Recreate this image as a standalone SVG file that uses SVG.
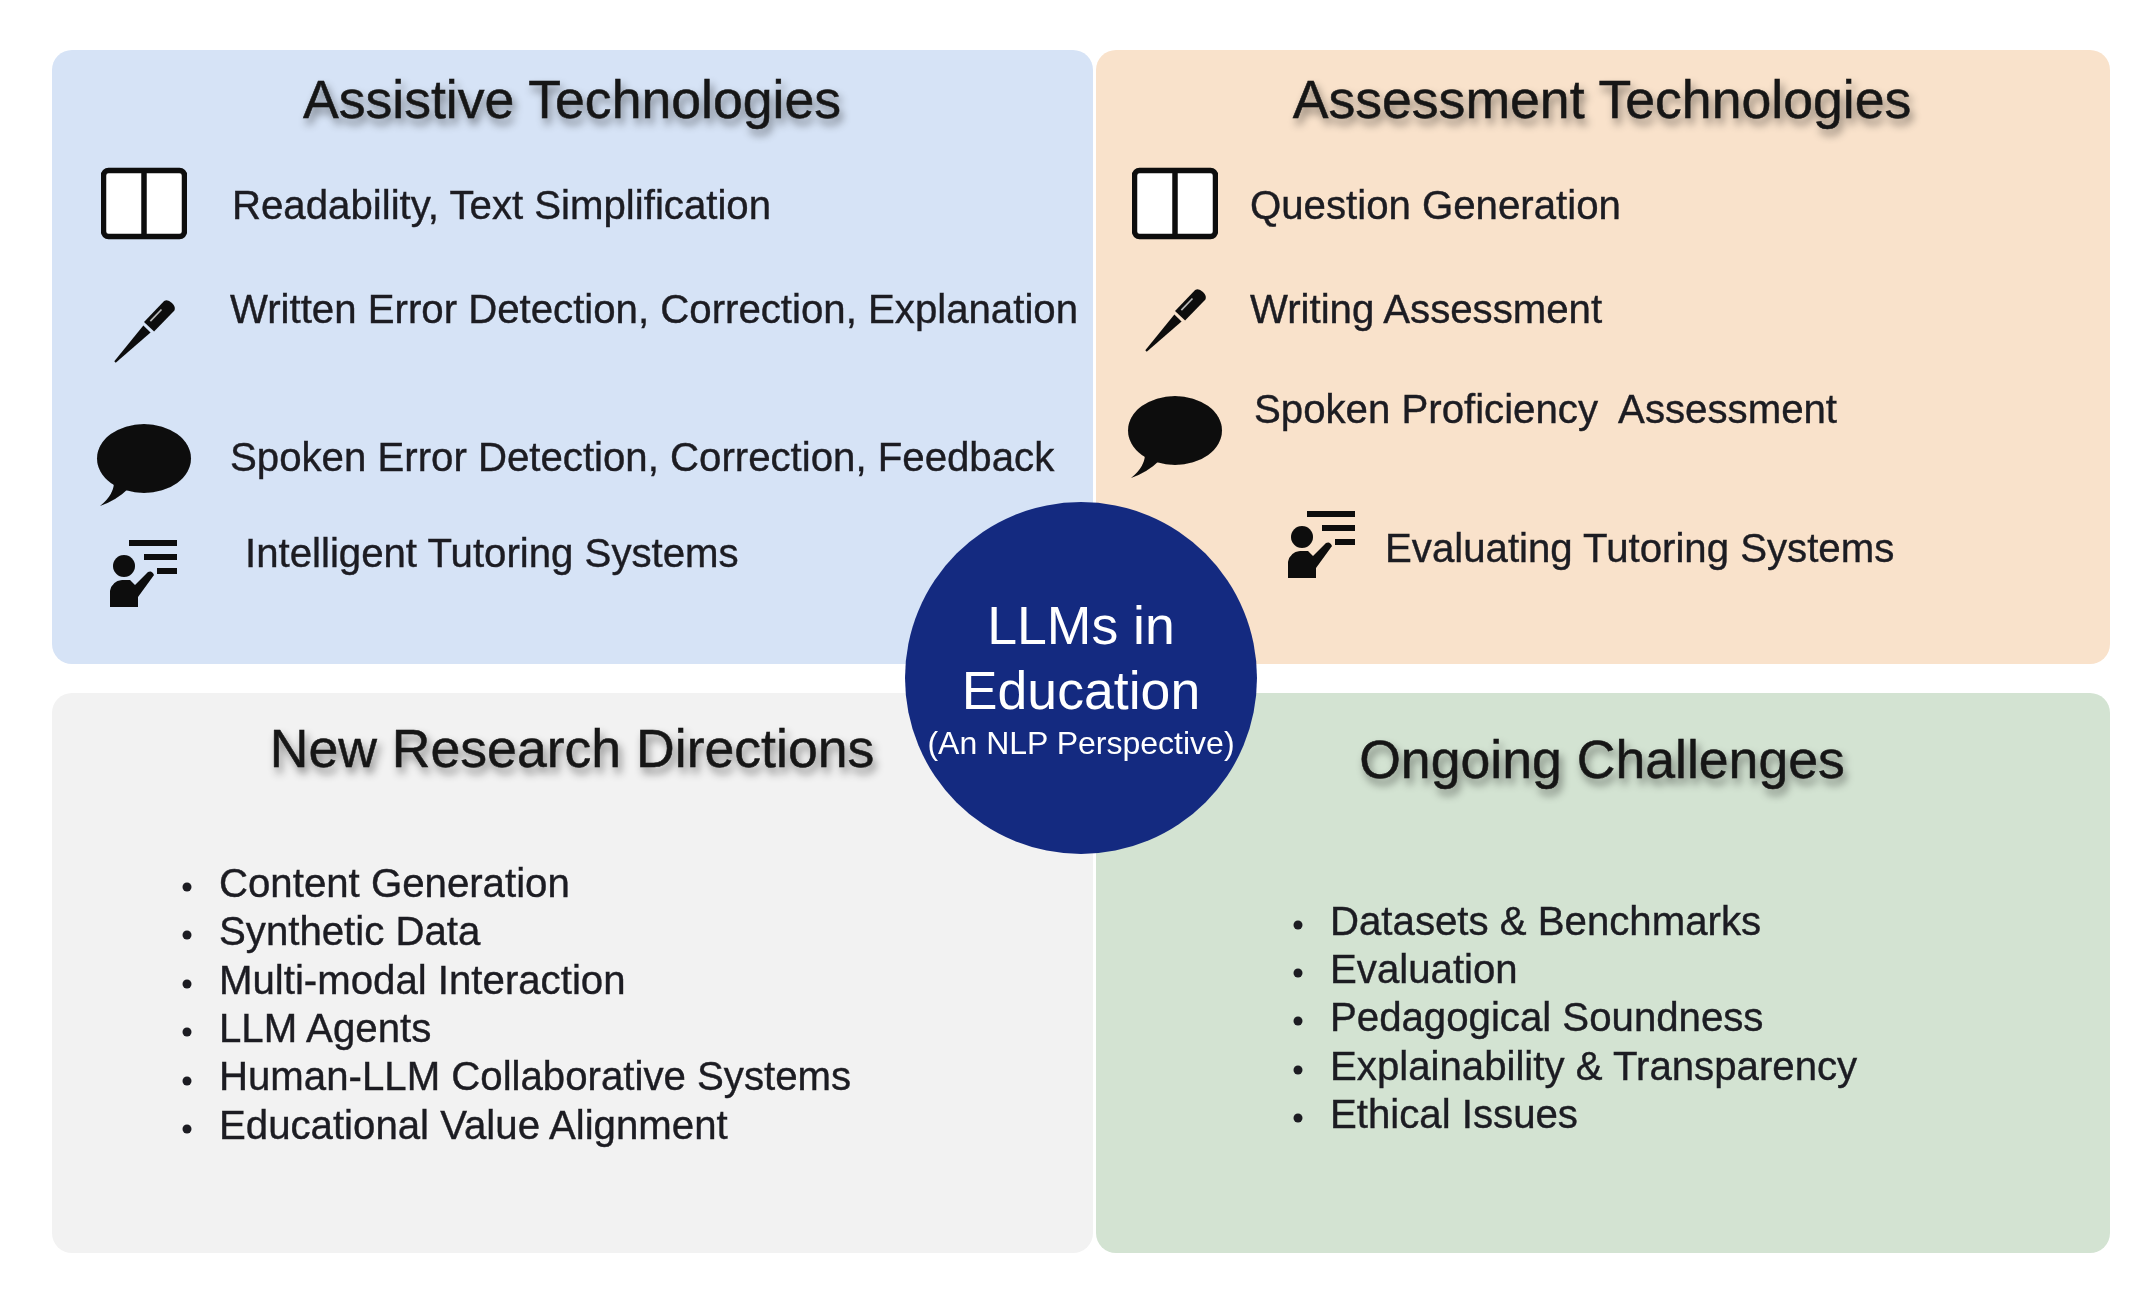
<svg xmlns="http://www.w3.org/2000/svg" width="2156" height="1308" viewBox="0 0 2156 1308">
<style>
text{font-family:"Liberation Sans",Arial,sans-serif}
.title{font-size:53.600px;fill:#161616;text-anchor:middle;filter:url(#shadow);stroke:#161616;stroke-width:.5px}
.body{font-size:40.200px;fill:#1c1c22;filter:url(#soft);stroke:#1c1c22;stroke-width:.4px}
.inv{fill:#fff;text-anchor:middle;filter:url(#soft)}
.dot{fill:#1c1c22}
.panel{stroke:none}
</style>
<defs>
<filter id="shadow" x="-5%" y="-30%" width="110%" height="170%"><feGaussianBlur in="SourceGraphic" stdDeviation="0.6" result="t"/><feDropShadow in="t" dx="3" dy="6" stdDeviation="4" flood-color="#000" flood-opacity="0.45"/></filter>
<filter id="soft" x="-2%" y="-10%" width="104%" height="120%"><feGaussianBlur stdDeviation="0.6"/></filter>
<g id="book" filter="url(#soft)"><rect x="2.500" y="2.500" width="81" height="66" rx="5" fill="#fff" stroke="#111" stroke-width="5.500"/><path d="M43 1V71" stroke="#111" stroke-width="5.500" fill="none"/></g>
<g id="pen" filter="url(#soft)"><g transform="translate(1,58) rotate(-46)"><path d="M0-1L46-5L46 5L0 1Z" fill="#111"/><path d="M49-7L78-7Q82-6 82 0Q82 6 78 7L49 7Z" fill="#111"/><path d="M54-3L70-3" stroke="#bbb" stroke-width="1.600"/></g></g>
<g id="bubble" filter="url(#soft)"><ellipse cx="47" cy="34.500" rx="47" ry="34.500" fill="#0a0a0a"/><path d="M17 56Q18 70 3 82Q20 76 32 64Z" fill="#0a0a0a"/></g>
<g id="teacher" filter="url(#soft)"><path d="M19 4H67M34 18H67M47 32H67" stroke="#0a0a0a" stroke-width="6" fill="none"/><circle cx="14" cy="27" r="11" fill="#0a0a0a"/><path d="M0 68V52Q2 42 12 41H20L25 46L38 33Q42 31 44 36L28 58V68Z" fill="#0a0a0a"/></g>
</defs>
<rect width="2156" height="1308" fill="#fff"/>
<g id="assistive-technologies">
<rect class="panel" x="52" y="50" width="1041" height="614" rx="20" fill="#d6e3f6"/>
<text class="title" x="572" y="118">Assistive Technologies</text>
<use href="#book" x="101" y="168"/><text class="body" x="232" y="218.500">Readability, Text Simplification</text>
<use href="#pen" x="114" y="304"/><text class="body" x="230" y="323">Written Error Detection, Correction, Explanation</text>
<use href="#bubble" x="97" y="424"/><text class="body" x="230" y="470.500">Spoken Error Detection, Correction, Feedback</text>
<use href="#teacher" x="110" y="539"/><text class="body" x="245" y="567">Intelligent Tutoring Systems</text>
</g>
<g id="assessment-technologies">
<rect class="panel" x="1096" y="50" width="1014" height="614" rx="20" fill="#f9e2cb"/>
<text class="title" x="1602" y="118">Assessment Technologies</text>
<use href="#book" x="1132" y="168"/><text class="body" x="1250" y="218.500">Question Generation</text>
<use href="#pen" x="1145" y="293"/><text class="body" x="1250" y="323">Writing Assessment</text>
<use href="#bubble" x="1128" y="396"/><text class="body" x="1254" y="422.500" xml:space="preserve">Spoken Proficiency  Assessment</text>
<use href="#teacher" x="1288" y="510"/><text class="body" x="1385" y="561.500">Evaluating Tutoring Systems</text>
</g>
<g id="new-research-directions">
<rect class="panel" x="52" y="693" width="1041" height="560" rx="20" fill="#f2f2f2"/>
<text class="title" x="572" y="767">New Research Directions</text>
<circle class="dot" cx="187" cy="887" r="4.500"/><text class="body" x="219" y="897">Content Generation</text>
<circle class="dot" cx="187" cy="935" r="4.500"/><text class="body" x="219" y="945">Synthetic Data</text>
<circle class="dot" cx="187" cy="984" r="4.500"/><text class="body" x="219" y="993.500">Multi-modal Interaction</text>
<circle class="dot" cx="187" cy="1032" r="4.500"/><text class="body" x="219" y="1042">LLM Agents</text>
<circle class="dot" cx="187" cy="1081" r="4.500"/><text class="body" x="219" y="1090">Human-LLM Collaborative Systems</text>
<circle class="dot" cx="187" cy="1129" r="4.500"/><text class="body" x="219" y="1138.500">Educational Value Alignment</text>
</g>
<g id="ongoing-challenges">
<rect class="panel" x="1096" y="693" width="1014" height="560" rx="20" fill="#d3e3d2"/>
<text class="title" x="1602" y="778">Ongoing Challenges</text>
<circle class="dot" cx="1298" cy="925" r="4.500"/><text class="body" x="1330" y="934.500">Datasets &amp; Benchmarks</text>
<circle class="dot" cx="1298" cy="973" r="4.500"/><text class="body" x="1330" y="982.500">Evaluation</text>
<circle class="dot" cx="1298" cy="1021" r="4.500"/><text class="body" x="1330" y="1031">Pedagogical Soundness</text>
<circle class="dot" cx="1298" cy="1070" r="4.500"/><text class="body" x="1330" y="1079.500">Explainability &amp; Transparency</text>
<circle class="dot" cx="1298" cy="1118" r="4.500"/><text class="body" x="1330" y="1127.500">Ethical Issues</text>
</g>
<g id="llms-in-education">
<circle cx="1081" cy="678" r="176" fill="#142a80"/>
<text class="inv" x="1081" y="644" font-size="53.600">LLMs in</text>
<text class="inv" x="1081" y="708.500" font-size="53.600">Education</text>
<text class="inv" x="1081" y="754" font-size="32">(An NLP Perspective)</text>
</g>
</svg>
